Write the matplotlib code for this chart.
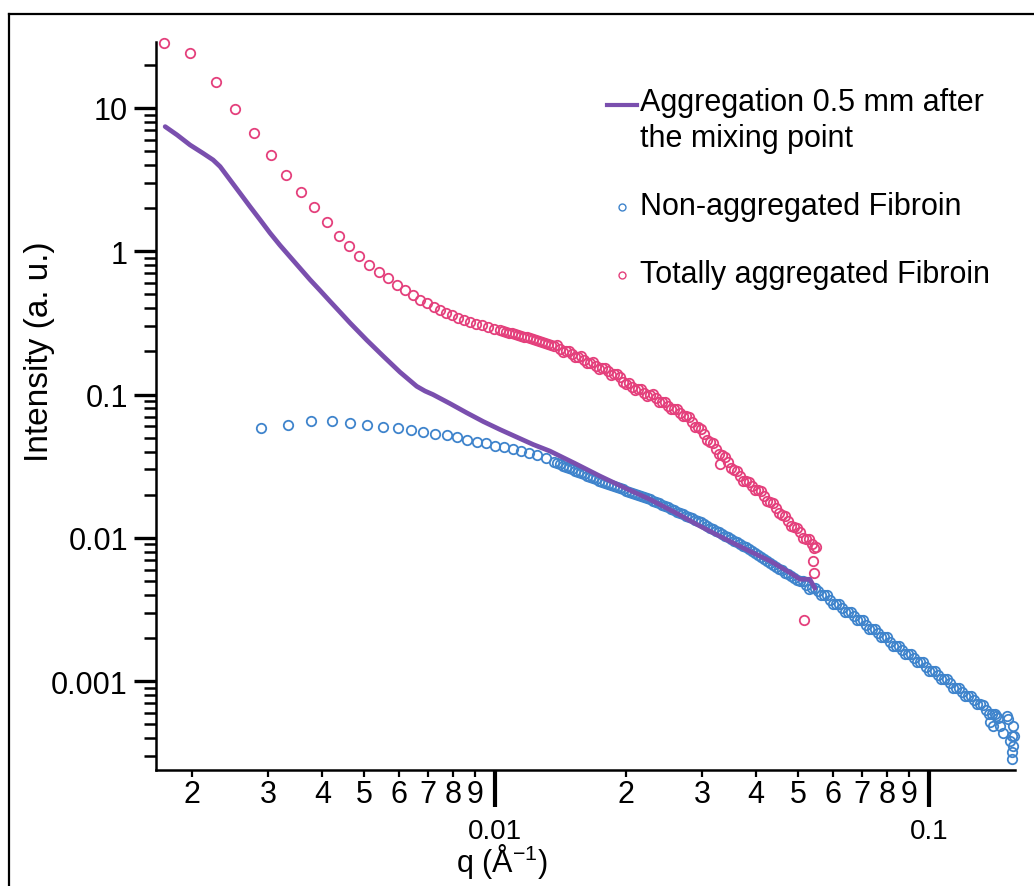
import matplotlib
matplotlib.use("Agg")
import matplotlib.pyplot as plt
from matplotlib.lines import Line2D
from matplotlib.ticker import NullFormatter

plt.rcParams['font.family'] = ['Liberation Sans', 'DejaVu Sans']
plt.rcParams['mathtext.fontset'] = 'custom'
plt.rcParams['mathtext.rm'] = 'Liberation Sans'
plt.rcParams['mathtext.it'] = 'Liberation Sans:italic'

# ---- data (q in 1/A, intensity in a.u.) ----
purple_q = [0.001737, 0.001851, 0.001982, 0.002124, 0.002240, 0.002325, 0.002451,
            0.002585, 0.002725, 0.002874, 0.003031, 0.003196, 0.003370, 0.003554,
            0.003748, 0.003952, 0.004168, 0.004395, 0.004634, 0.005063, 0.005530,
            0.006039, 0.006601, 0.006899, 0.007196, 0.007873, 0.008607, 0.009398,
            0.01027, 0.01225, 0.01339, 0.01528, 0.01745, 0.01993, 0.02275, 0.02599,
            0.02968, 0.03388, 0.03870, 0.04301, 0.04782, 0.05045, 0.05318, 0.05461]
purple_i = [7.41, 6.48, 5.52, 4.83, 4.34, 3.90, 3.15,
            2.54, 2.05, 1.66, 1.34, 1.10, 0.915, 0.761,
            0.633, 0.533, 0.447, 0.376, 0.316, 0.240, 0.185,
            0.1435, 0.1142, 0.1058, 0.100, 0.0866, 0.0746, 0.0648,
            0.0570, 0.0448, 0.0403, 0.0331, 0.0270, 0.0223, 0.01855, 0.01505,
            0.01208, 0.00984, 0.00805, 0.00691, 0.00572, 0.00514, 0.00514, 0.00445]

blue_q = [0.002884, 0.00333, 0.00376, 0.00420, 0.00463, 0.00508, 0.00553, 0.00597,
          0.00641, 0.00684, 0.00728, 0.00774, 0.00819, 0.00863, 0.00908, 0.00953,
          0.01000, 0.01049, 0.01100, 0.01147, 0.01200, 0.01252, 0.01311,
          0.01368, 0.01412, 0.01458, 0.01505, 0.01554, 0.01604, 0.01656, 0.01709,
          0.01765, 0.01822, 0.01881, 0.01941, 0.02004, 0.02069, 0.02136, 0.02205,
          0.02276, 0.02350, 0.02426, 0.02505, 0.02586, 0.02669, 0.02756, 0.02845,
          0.02937, 0.03032, 0.03130, 0.03231, 0.03336, 0.03444, 0.03555, 0.03670,
          0.03789, 0.03911, 0.04038, 0.04168, 0.04303, 0.04443, 0.04586, 0.04735,
          0.04888, 0.05046, 0.05209, 0.05378, 0.05552, 0.05731, 0.05917, 0.06108,
          0.06306, 0.06510, 0.06720, 0.06938, 0.07162, 0.07394, 0.07633, 0.07880,
          0.08135, 0.08398, 0.08670, 0.08950, 0.09240, 0.09539, 0.09847, 0.10166,
          0.10494, 0.10834, 0.11184, 0.11546, 0.11920, 0.12305, 0.12703, 0.13114,
          0.13539, 0.13977, 0.14429,
          0.1407, 0.1482, 0.1511, 0.1523, 0.1564, 0.1553, 0.1564, 0.1559, 0.1553, 0.1575,
          0.1457, 0.1382, 0.1537, 0.1432]
blue_i = [0.0586, 0.0618, 0.0652, 0.0652, 0.0635, 0.0611, 0.0595, 0.0580,
          0.0564, 0.0546, 0.0532, 0.0518, 0.0504, 0.0485, 0.0468, 0.0456,
          0.0441, 0.0428, 0.0414, 0.0401, 0.0388, 0.0376, 0.0362,
          0.0338, 0.0325, 0.0312, 0.0300, 0.0288, 0.0277, 0.0266, 0.0256,
          0.0246, 0.0238, 0.0229, 0.0221, 0.0214, 0.0206, 0.0199, 0.0192,
          0.0186, 0.0178, 0.0170, 0.0163, 0.0156, 0.0149, 0.0143, 0.0137,
          0.0131, 0.0125, 0.0118, 0.0112, 0.0106, 0.0101, 0.00958, 0.00908,
          0.00861, 0.00814, 0.00764, 0.00716, 0.00672, 0.00631, 0.00592, 0.00555,
          0.00522, 0.00497, 0.00470, 0.00446, 0.00424, 0.00397, 0.00371, 0.00347,
          0.00324, 0.00303, 0.00283, 0.00265, 0.00248, 0.00231, 0.00216, 0.00202,
          0.00189, 0.00177, 0.00165, 0.00154, 0.00144, 0.00135, 0.00126, 0.00118,
          0.00110, 0.00103, 0.000964, 0.000901, 0.000842, 0.000787, 0.000736, 0.000688,
          0.000633, 0.000589, 0.000552,
          0.000488, 0.000438, 0.000573, 0.000543, 0.000488, 0.000416, 0.000354,
          0.000318, 0.000286, 0.000416,
          0.000488, 0.000515, 0.000384, 0.000573]
# circles lying between the ones above in the dense part of the band
blue_q2 = [0.01390, 0.01435, 0.01481, 0.01529, 0.01579, 0.01630, 0.01683, 0.01737,
           0.01793, 0.01851, 0.01911, 0.01972, 0.02036, 0.02102, 0.02170, 0.02240,
           0.02313, 0.02388, 0.02465, 0.02545, 0.02627, 0.02712, 0.02800, 0.02891,
           0.02984, 0.03081, 0.03180, 0.03283, 0.03389, 0.03499, 0.03612, 0.03729,
           0.03850, 0.03974, 0.04103, 0.04235, 0.04372, 0.04514, 0.04660, 0.04811,
           0.04966, 0.05127, 0.05293, 0.05464, 0.05641, 0.05823, 0.06012, 0.06206,
           0.06407, 0.06614, 0.06828, 0.07049, 0.07277, 0.07513, 0.07756, 0.08006,
           0.08265, 0.08533, 0.08809, 0.09094, 0.09388, 0.09692, 0.10005, 0.10329,
           0.10662, 0.11008, 0.11364, 0.11731, 0.12111, 0.12502, 0.12907, 0.13324,
           0.13756, 0.14201]
blue_i2 = [0.03315, 0.03185, 0.0306, 0.0294, 0.02825, 0.02715, 0.0261, 0.0251,
           0.0242, 0.02335, 0.0225, 0.02175, 0.0210, 0.02025, 0.01955, 0.0189,
           0.0182, 0.0174, 0.01665, 0.01595, 0.01525, 0.0146, 0.0140, 0.0134,
           0.0128, 0.01215, 0.0115, 0.0109, 0.01035, 0.00984, 0.00933, 0.00884,
           0.00837, 0.00789, 0.00740, 0.00694, 0.00651, 0.00611, 0.00573, 0.00538,
           0.00509, 0.00499, 0.00443, 0.00449, 0.00397, 0.00397, 0.00348, 0.00347,
           0.00303, 0.00303, 0.00265, 0.00265, 0.00232, 0.00231, 0.00202, 0.00202,
           0.00177, 0.00177, 0.00154, 0.00154, 0.00135, 0.00135, 0.00118, 0.00118,
           0.00103, 0.00103, 0.000902, 0.000900, 0.000788, 0.000786, 0.000689, 0.000682,
           0.000591, 0.000589]

pink_q = [0.001726, 0.001982, 0.00227, 0.00252, 0.00279, 0.00305, 0.00330, 0.00357,
          0.00383, 0.00409, 0.00436, 0.00462, 0.00487, 0.00513, 0.00539, 0.00567,
          0.00594, 0.00619, 0.00648, 0.00673, 0.00697, 0.00722, 0.00747,
          0.00771, 0.00796, 0.00822, 0.00848, 0.00876, 0.00904, 0.00933, 0.00964,
          0.00995, 0.01027, 0.01060, 0.01094, 0.01130, 0.01166, 0.01204, 0.01243,
          0.01283, 0.01325, 0.01368, 0.01412, 0.01458, 0.01505, 0.01554, 0.01604,
          0.01656, 0.01709, 0.01765, 0.01822, 0.01881, 0.01941, 0.02004, 0.02069,
          0.02136, 0.02205, 0.02276, 0.02350, 0.02426, 0.02505, 0.02586, 0.02669,
          0.02756, 0.02845, 0.02937, 0.03032, 0.03130, 0.03231, 0.03336, 0.03444,
          0.03555, 0.03670, 0.03789, 0.03911, 0.04038, 0.04168, 0.04303, 0.04443,
          0.04586, 0.04735, 0.04888, 0.05046, 0.05209, 0.05378, 0.05493,
          0.0330, 0.0515, 0.0541, 0.0543]
pink_i = [28.3, 24.0, 15.2, 9.8, 6.67, 4.70, 3.41, 2.60,
          2.03, 1.60, 1.28, 1.09, 0.93, 0.805, 0.72, 0.65,
          0.585, 0.54, 0.495, 0.46, 0.436, 0.41, 0.387,
          0.372, 0.358, 0.344, 0.332, 0.322, 0.313, 0.305, 0.296,
          0.287, 0.280, 0.274, 0.267, 0.261, 0.254, 0.248, 0.241,
          0.233, 0.225, 0.218, 0.209, 0.201, 0.192, 0.183, 0.175,
          0.166, 0.159, 0.153, 0.145, 0.139, 0.132, 0.119, 0.113,
          0.109, 0.103, 0.100, 0.0944, 0.0891, 0.0838, 0.0793, 0.0749,
          0.0703, 0.0641, 0.0589, 0.0529, 0.0470, 0.0417, 0.0376, 0.0339,
          0.0297, 0.0270, 0.0249, 0.0230, 0.0216, 0.0195, 0.0177, 0.0161,
          0.0145, 0.0131, 0.0119, 0.0109, 0.00984, 0.00908, 0.00859,
          0.0325, 0.00267, 0.00689, 0.00566]
pink_q2 = [0.01043, 0.01077, 0.01112, 0.01148, 0.01185, 0.01223, 0.01263, 0.01304,
           0.01346, 0.01390, 0.01435, 0.01481, 0.01529, 0.01579, 0.01630, 0.01683,
           0.01737, 0.01793, 0.01851, 0.01911, 0.01972, 0.02036, 0.02102, 0.02170,
           0.02240, 0.02313, 0.02388, 0.02465, 0.02545, 0.02627, 0.02712, 0.02800,
           0.02891, 0.02984, 0.03081, 0.03180, 0.03283, 0.03389, 0.03499, 0.03612,
           0.03729, 0.03850, 0.03974, 0.04103, 0.04235, 0.04372, 0.04514, 0.04660,
           0.04811, 0.04966, 0.05127, 0.05293, 0.05435]
pink_i2 = [0.277, 0.2705, 0.264, 0.2575, 0.251, 0.2445, 0.237, 0.229,
           0.2215, 0.2205, 0.1984, 0.2029, 0.1814, 0.1849, 0.1650, 0.1678,
           0.1510, 0.1538, 0.1374, 0.1399, 0.1220, 0.1198, 0.1074, 0.1095,
           0.0982, 0.1004, 0.0888, 0.0893, 0.0789, 0.0796, 0.0703, 0.0694,
           0.0595, 0.0577, 0.0483, 0.0457, 0.0383, 0.0369, 0.0307, 0.0293,
           0.0251, 0.0247, 0.0216, 0.0212, 0.0180, 0.0175, 0.0148, 0.0142,
           0.0121, 0.0118, 0.01003, 0.00977, 0.00855]

labels = ['Aggregation 0.5 mm after', 'the mixing point',
          'Non-aggregated Fibroin', 'Totally aggregated Fibroin']
x_major = [0.01, 0.1]
x_major_labels = ['0.01', '0.1']
x_minor = [k * 0.001 for k in range(2, 10)] + [k * 0.01 for k in range(2, 10)]
x_minor_labels = [str(k) for k in range(2, 10)] * 2
y_major = [0.001, 0.01, 0.1, 1, 10]
y_major_labels = ['0.001', '0.01', '0.1', '1', '10']
y_minor = [k * 10.0 ** e for e in range(-4, 2) for k in range(2, 10)]

PURPLE = '#7a4fae'
BLUE = '#3f84cc'
PINK = '#e4407c'

W, H = 1034, 887
fig = plt.figure(figsize=(W / 100, H / 100), dpi=100)
fig.patch.set_facecolor('white')
ax = fig.add_axes([155.7 / W, 116.3 / H, (1015 - 155.7) / W, (844.3 - 116.3) / H])

marker_style = dict(marker='o', linestyle='none', mfc='none', ms=6.8, mew=1.3,
                    clip_on=False, zorder=2)
ax.plot(blue_q, blue_i, mec=BLUE, **marker_style)
ax.plot(blue_q2, blue_i2, mec=BLUE, **marker_style)
ax.plot(pink_q, pink_i, mec=PINK, **marker_style)
ax.plot(pink_q2, pink_i2, mec=PINK, **marker_style)
ax.plot(purple_q, purple_i, '-', color=PURPLE, lw=3.4,
        solid_capstyle='round', solid_joinstyle='round', zorder=3)

ax.set_xscale('log')
ax.set_yscale('log')
ax.set_xticks(x_major, x_major_labels)
ax.set_xticks(x_minor, x_minor_labels, minor=True)
ax.set_yticks(y_major, y_major_labels)
ax.set_yticks(y_minor, minor=True)
ax.yaxis.set_minor_formatter(NullFormatter())
ax.set_xlim(0.001652, 0.158)
ax.set_ylim(2.41e-4, 29)

for s in ['top', 'right']:
    ax.spines[s].set_visible(False)
for s in ['left', 'bottom']:
    ax.spines[s].set_linewidth(1.8)

ax.tick_params(axis='x', which='major', direction='out', length=26.5, width=3.0,
               pad=8, labelsize=20)
ax.tick_params(axis='x', which='minor', direction='out', length=5, width=1.6,
               pad=2, labelsize=22)
ax.tick_params(axis='y', which='major', direction='out', length=16, width=2.4,
               pad=4, labelsize=22)
ax.tick_params(axis='y', which='minor', direction='out', length=8.6, width=1.8)

# axis titles
fig.text(40 / W, 1 - 352 / H, 'Intensity (a. u.)', rotation=90,
         ha='center', va='center', fontsize=24)
fig.text(502 / W, 1 - 862 / H, r'q (Å$^{\mathrm{-1}}$)', ha='center',
         va='center', fontsize=22)

# legend
fig.add_artist(Line2D([607 / W, 637 / W], [1 - 106 / H] * 2, color=PURPLE,
                      lw=3, transform=fig.transFigure))
fig.text(640 / W, 1 - 103 / H, labels[0], va='center', fontsize=22)
fig.text(640 / W, 1 - 139 / H, labels[1], va='center', fontsize=22)
fig.add_artist(Line2D([622 / W], [1 - 208 / H], marker='o', mfc='none', mec=BLUE,
                      ms=5, mew=1, transform=fig.transFigure))
fig.text(640 / W, 1 - 207 / H, labels[2], va='center', fontsize=22)
fig.add_artist(Line2D([622 / W], [1 - 276 / H], marker='o', mfc='none', mec=PINK,
                      ms=5, mew=1, transform=fig.transFigure))
fig.text(640 / W, 1 - 275 / H, labels[3], va='center', fontsize=22)

# outer frame of the figure
fig.add_artist(Line2D([9 / W, 1], [1 - 15 / H] * 2, color='black', lw=1.6,
                      transform=fig.transFigure))
fig.add_artist(Line2D([9 / W] * 2, [1 - 15 / H, 0], color='black', lw=1.6,
                      transform=fig.transFigure))

fig.savefig('out.png', dpi=100)
